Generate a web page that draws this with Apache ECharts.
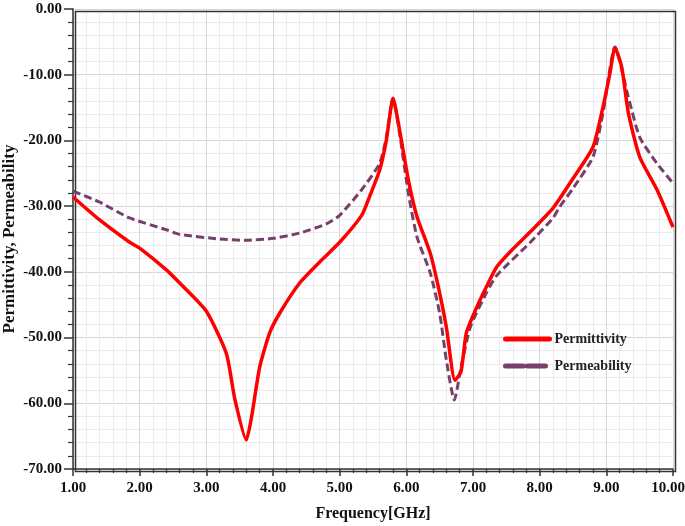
<!DOCTYPE html>
<html>
<head>
<meta charset="utf-8">
<script src="https://cdn.jsdelivr.net/npm/echarts@6/dist/echarts.min.js"></script>
<style>
  html, body { margin: 0; padding: 0; background: #fff; }
  #chart { width: 685px; height: 526px; }
</style>
</head>
<body>
<div id="chart"></div>
<script>
  // values (frequency in GHz)
  var permittivityFreq = [1.0, 1.4, 1.85, 2.0, 2.4, 2.6, 3.0, 3.3, 3.43, 3.6, 3.68, 3.8, 3.95, 4.1, 4.4, 4.7, 5.0,
    5.33, 5.45, 5.6, 5.7, 5.8, 5.9, 6.03, 6.16, 6.36, 6.48, 6.6, 6.73, 6.82, 6.9, 7.06, 7.2, 7.36, 7.6,
    7.86, 8.2, 8.5, 8.8, 8.95, 9.05, 9.13, 9.23, 9.33, 9.5, 9.76, 10.0];
  var permittivity = [-28.6, -32.1, -35.5, -36.4, -39.7, -41.7, -46.0, -52.4, -59.5, -65.6, -62.0, -54.5, -49.3, -46.3, -41.7, -38.5, -35.5,
    -31.4, -28.5, -24.5, -20.0, -13.6, -18.5, -26.0, -31.6, -37.2, -42.3, -48.4, -56.5, -55.2, -49.3, -45.3, -42.3, -39.2, -36.5,
    -33.9, -30.3, -25.8, -21.0, -14.9, -10.0, -5.9, -8.8, -15.8, -22.5, -27.5, -33.2];

  var permeabilityFreq = [1.0, 1.4, 1.85, 2.4, 2.6, 3.2, 3.6, 4.0, 4.4, 4.8, 5.0, 5.33, 5.6, 5.7, 5.8, 5.9,
    6.03, 6.16, 6.36, 6.5, 6.6, 6.72, 6.82, 6.96, 7.2, 7.36, 7.86, 8.2, 8.3, 8.5, 8.8, 8.95, 9.13,
    9.33, 9.5, 9.76, 10.0];
  var permeability = [-27.7, -29.4, -31.8, -33.6, -34.3, -35.0, -35.2, -34.9, -34.1, -32.7, -31.4, -27.5, -23.5, -19.5, -13.6, -19.0,
    -28.0, -34.7, -40.2, -46.3, -53.4, -59.5, -54.5, -48.4, -43.2, -40.5, -35.5, -31.8, -30.1, -27.3, -22.5, -15.8, -5.8,
    -13.4, -19.5, -23.5, -26.5];

  var seriesNames = ['Permittivity', 'Permeability'];
  var xTitle = 'Frequency[GHz]';
  var yTitle = 'Permittivity, Permeability';

  function pairs(xs, ys) {
    return xs.map(function (x, i) { return [x, ys[i]]; });
  }

  var serif = '"Liberation Serif", "Times New Roman", serif';
  var red = '#ff0000';
  var purple = '#76406a';
  var labelFont = { fontFamily: serif, fontWeight: 'bold', fontSize: 15, color: '#111' };

  var chart = echarts.init(document.getElementById('chart'));
  chart.setOption({
    animation: false,
    grid: { left: 73, right: 12, top: 9, bottom: 57, outerBoundsMode: 'none' },
    legend: {
      orient: 'vertical',
      left: 498,
      top: 327,
      itemWidth: 44,
      itemHeight: 14,
      itemGap: 13,
      itemStyle: { opacity: 0 },
      textStyle: { fontFamily: serif, fontWeight: 'bold', fontSize: 14, color: '#222' },
      data: [
        { name: seriesNames[0], lineStyle: { color: red, width: 5, type: 'solid', cap: 'round' } },
        { name: seriesNames[1], lineStyle: { color: purple, width: 5, type: [18, 4], cap: 'round' } }
      ]
    },
    xAxis: {
      type: 'value',
      min: 1,
      max: 10,
      interval: 1,
      name: xTitle,
      nameLocation: 'middle',
      nameGap: 37,
      nameTextStyle: { fontFamily: serif, fontWeight: 'bold', fontSize: 16, color: '#111' },
      axisLine: { onZero: false, lineStyle: { color: '#333', width: 1.5 } },
      axisTick: { length: 7, lineStyle: { color: '#333', width: 1.5 } },
      minorTick: { show: true, splitNumber: 5, length: 4, lineStyle: { color: '#333', width: 1.2 } },
      splitLine: { lineStyle: { color: '#d6d6d6', width: 1 } },
      minorSplitLine: { show: true, lineStyle: { color: '#ececec', width: 1 } },
      axisLabel: Object.assign({
        margin: 12,
        formatter: function (v) {
          // the last label is nudged left so it stays inside the page
          return v === 10 ? '{last|' + v.toFixed(2) + '}' : v.toFixed(2);
        },
        rich: { last: Object.assign({ padding: [0, 10, 0, 0] }, labelFont) }
      }, labelFont)
    },
    yAxis: {
      type: 'value',
      min: -70,
      max: 0,
      interval: 10,
      name: yTitle,
      nameLocation: 'middle',
      nameGap: 55,
      nameMoveOverlap: false,
      nameTextStyle: { fontFamily: serif, fontWeight: 'bold', fontSize: 17, color: '#111' },
      axisLine: { show: true, lineStyle: { color: '#333', width: 1.5 } },
      axisTick: { show: true, length: 9, lineStyle: { color: '#333', width: 1.5 } },
      minorTick: { show: true, splitNumber: 5, length: 5, lineStyle: { color: '#333', width: 1.2 } },
      splitLine: { lineStyle: { color: '#d6d6d6', width: 1 } },
      minorSplitLine: { show: true, lineStyle: { color: '#ececec', width: 1 } },
      axisLabel: Object.assign({
        margin: 11,
        formatter: function (v) { return v.toFixed(2); }
      }, labelFont)
    },
    graphic: [{
      // dark frame on the top and right edges of the plot
      type: 'rect',
      left: 73, top: 9,
      shape: { width: 600, height: 460 },
      style: { fill: 'none', stroke: '#333', lineWidth: 1.5 },
      silent: true,
      z: 1
    }],
    series: [
      {
        name: seriesNames[0],
        type: 'line',
        data: pairs(permittivityFreq, permittivity),
        symbol: 'none',
        smooth: 0.2,
        lineStyle: { color: red, width: 3.5 },
        itemStyle: { color: red },
        z: 3
      },
      {
        name: seriesNames[1],
        type: 'line',
        data: pairs(permeabilityFreq, permeability),
        symbol: 'none',
        smooth: 0.2,
        lineStyle: { color: purple, width: 3, type: [8, 4] },
        itemStyle: { color: purple },
        z: 2
      }
    ]
  });
  window.addEventListener('resize', function () {
    chart.resize();
  });
</script>
</body>
</html>
